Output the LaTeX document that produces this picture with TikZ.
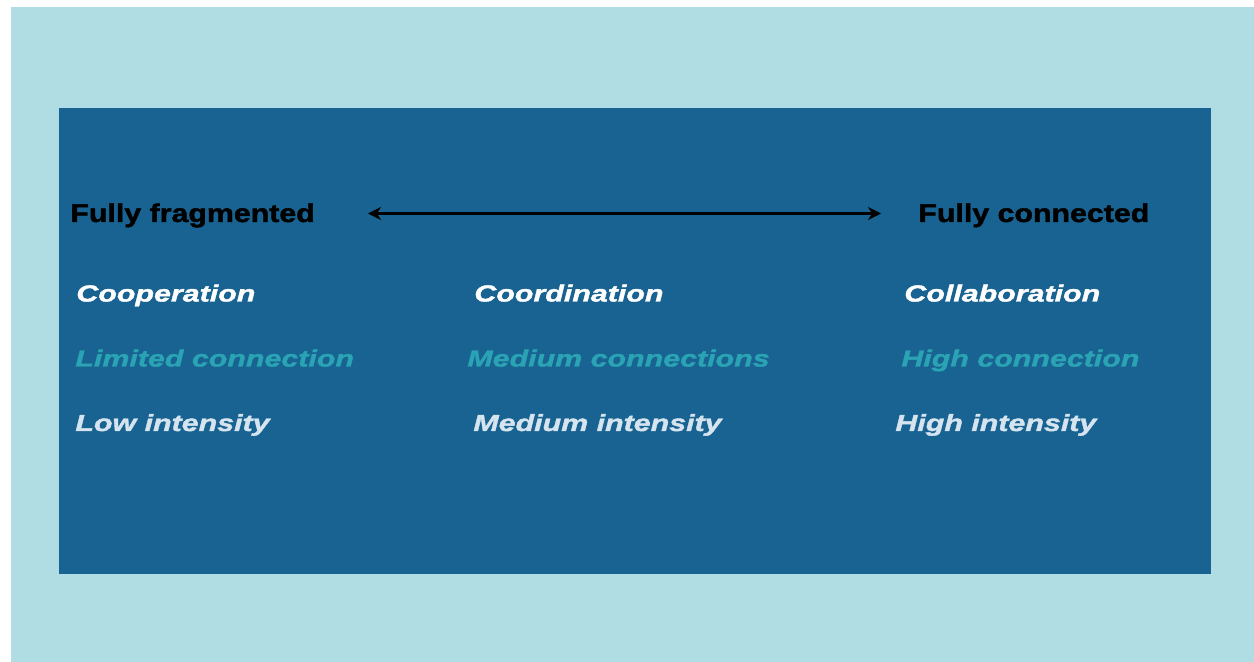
\documentclass[tikz,border=0pt]{standalone}
\usepackage{fontspec}
\usetikzlibrary{arrows.meta}
\setmainfont{Liberation Sans}
\newfontfamily\headfont[FakeStretch=1.185,FakeBold=1.6]{Liberation Sans}
\newfontfamily\rowfont[FakeStretch=1.31,FakeBold=1.6]{Liberation Sans}
\definecolor{paleblue}{HTML}{B0DDE4}
\definecolor{deepblue}{HTML}{186391}
\definecolor{tealtext}{HTML}{2AA3B4}
\definecolor{mistwhite}{HTML}{D5E4EE}
\begin{document}
\begin{tikzpicture}[x=0.5pt,y=-0.5pt,
    pole/.style={anchor=base west, inner sep=0pt, text=black, font=\headfont\bfseries\fontsize{12.8}{14}\selectfont},
    level/.style={anchor=base west, inner sep=0pt, font=\rowfont\bfseries\itshape\fontsize{11.6}{13}\selectfont}]
    \useasboundingbox (0,0) rectangle (1254,662);
    \fill[paleblue] (11,7) rectangle (1254,662);
    \fill[deepblue] (59,108) rectangle (1211,574);
    % the two ends of the scale
    \node[pole] (frag) at (70,222) {Fully fragmented};
    \node[pole] (conn) at (918,222) {Fully connected};
    \coordinate (arrL) at (368,213.5);
    \coordinate (arrR) at (881,213.5);
    \draw[line width=1.5pt,black,{Stealth[length=6.5pt,width=6.5pt]}-{Stealth[length=6.5pt,width=6.5pt]}] (arrL)--(arrR);
    % kind of working together
    \node[level,text=white] (coop) at (76,301.5) {Cooperation};
    \node[level,text=white] (coord) at (474,301.5) {Coordination};
    \node[level,text=white] (collab) at (904,301.5) {Collaboration};
    % connections
    \node[level,text=tealtext] (limconn) at (75,366.5) {Limited connection};
    \node[level,text=tealtext] (medconn) at (467,366.5) {Medium connections};
    \node[level,text=tealtext] (highconn) at (901,366.5) {High connection};
    % intensity
    \node[level,text=mistwhite] (lowint) at (75,431) {Low intensity};
    \node[level,text=mistwhite] (medint) at (473,431) {Medium intensity};
    \node[level,text=mistwhite] (highint) at (895,431) {High intensity};
\end{tikzpicture}
\end{document}
